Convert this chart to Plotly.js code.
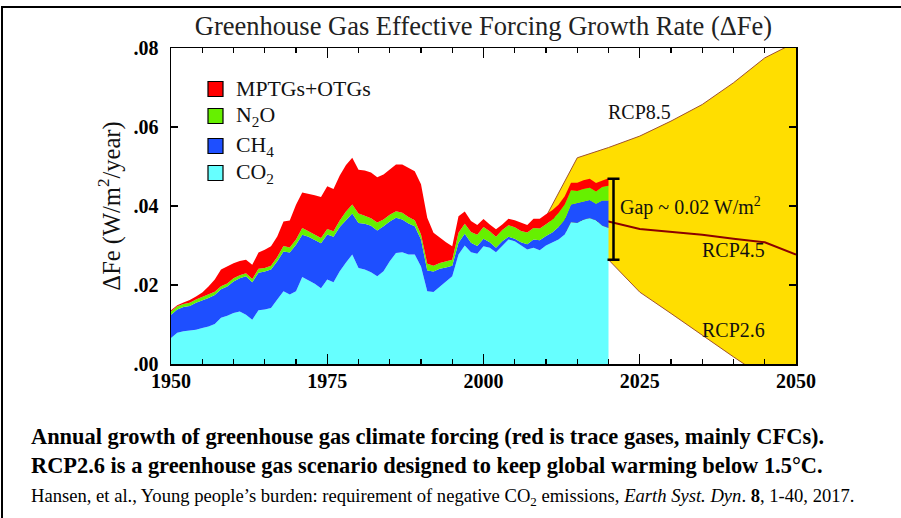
<!DOCTYPE html>
<html><head><meta charset="utf-8">
<script src="https://cdn.plot.ly/plotly-3.0.1.min.js"></script>
<style>
html,body{margin:0;padding:0;background:#fff;overflow:hidden;}
#wrap{position:relative;width:901px;height:518px;}
#chart{position:absolute;left:0;top:0;width:901px;height:518px;}
#frame{position:absolute;left:1px;top:6px;right:-4px;bottom:-4px;border-top:2px solid #000;border-left:2px solid #000;pointer-events:none;}
</style></head><body>
<div id="wrap"><div id="chart"></div><div id="frame"></div></div>
<script>
// ---- data ----
const years = [1950,1951,1952,1953,1954,1955,1956,1957,1958,1959,
1960,1961,1962,1963,1964,1965,1966,1967,1968,1969,
1970,1971,1972,1973,1974,1975,1976,1977,1978,1979,
1980,1981,1982,1983,1984,1985,1986,1987,1988,1989,
1990,1991,1992,1993,1994,1995,1996,1997,1998,1999,
2000,2001,2002,2003,2004,2005,2006,2007,2008,2009,
2010,2011,2012,2013,2014,2015,2016,2017,2018,2019,2020];
const co2 = [.0066,.0079,.0083,.0085,.0087,.0091,.0095,.0101,.0117,.0122,
.0129,.0133,.0125,.0112,.0136,.0138,.0142,.0163,.0184,.0176,
.0184,.0220,.0212,.0203,.0192,.0214,.0207,.0235,.0257,.0277,
.0243,.0239,.0232,.0222,.0235,.0260,.0281,.0283,.0277,.0277,
.0247,.0184,.0182,.0195,.0209,.0222,.0277,.0300,.0283,.0279,
.0298,.0294,.0283,.0298,.0315,.0311,.0300,.0290,.0294,.0288,
.0300,.0308,.0315,.0328,.0359,.0357,.0366,.0369,.0364,.0350,.0344];
const ch4 = [.0059,.0059,.0061,.0062,.0068,.0069,.0072,.0074,.0072,.0074,
.0080,.0084,.0097,.0095,.0095,.0096,.0097,.0097,.0101,.0106,
.0118,.0107,.0110,.0111,.0114,.0114,.0115,.0112,.0108,.0104,
.0114,.0116,.0118,.0116,.0114,.0101,.0089,.0083,.0079,.0072,
.0068,.0053,.0052,.0046,.0035,.0027,.0030,.0030,.0024,.0020,
.0019,.0014,.0011,.0013,.0007,.0006,.0008,.0013,.0021,.0025,
.0024,.0025,.0032,.0038,.0045,.0051,.0046,.0046,.0042,.0064,.0070];
const n2o = [.0008,.0008,.0008,.0008,.0008,.0009,.0008,.0008,.0008,.0008,
.0008,.0008,.0008,.0008,.0010,.0009,.0010,.0011,.0014,.0013,
.0013,.0017,.0014,.0013,.0013,.0014,.0014,.0016,.0021,.0023,
.0024,.0020,.0019,.0020,.0017,.0017,.0017,.0017,.0016,.0015,
.0013,.0017,.0015,.0015,.0016,.0015,.0025,.0025,.0027,.0028,
.0030,.0028,.0028,.0028,.0029,.0029,.0029,.0030,.0029,.0030,
.0030,.0032,.0035,.0038,.0036,.0030,.0031,.0031,.0031,.0034,.0037];
const mptg = [.0003,.0003,.0004,.0007,.0008,.0012,.0021,.0031,.0042,.0044,
.0038,.0036,.0034,.0036,.0041,.0046,.0049,.0052,.0062,.0068,
.0088,.0090,.0095,.0100,.0104,.0108,.0107,.0114,.0118,.0118,
.0111,.0115,.0116,.0115,.0114,.0114,.0118,.0122,.0125,.0124,
.0127,.0116,.0083,.0063,.0048,.0034,.0042,.0031,.0028,.0025,
.0020,.0017,.0019,.0014,.0017,.0018,.0020,.0019,.0024,.0025,
.0025,.0024,.0021,.0021,.0019,.0021,.0022,.0023,.0021,.0017,.0019];

const rcpYears = [2010,2015,2020,2025,2030,2035,2040,2045,2050];
const rcp85 = [.0373,.0522,.0548,.0577,.0615,.0657,.0712,.0775,.0815];
const rcp45 = [.0370,.0366,.0361,.0342,.0334,.0327,.0317,.0308,.0277];
const rcp26 = [.0370,.0320,.0264,.0182,.0128,.0072,.0018,-.0035,-.0088];

const gapYear = 2020.8, gapHigh = .0469, gapLow = .0264;

const seriesNames = ['CO<sub>2</sub>','CH<sub>4</sub>','N<sub>2</sub>O','MPTGs+OTGs'];
const seriesColors = ['#66FFFF','#1E4FFF','#66F000','#FF0000'];
const xTickVals = [1950,1975,2000,2025,2050];
const yTickVals = [0,.02,.04,.06,.08];
const yTickText = ['.00','.02','.04','.06','.08'];

// ---- layout helpers ----
const W=901,H=518,L=171,R=105,T=48,B=154;
const pw=W-L-R, ph=H-T-B;
const px = x => (x-L)/pw;
const py = y => (H-B-y)/ph;
const SERIF = '"Liberation Serif", "Times New Roman", serif';

const traces = [];
traces.push({x:rcpYears,y:rcp26,mode:'lines',line:{color:'#A0522D',width:1},showlegend:false,hoverinfo:'skip'});
traces.push({x:rcpYears,y:rcp85,mode:'lines',fill:'tonexty',fillcolor:'#FFDE00',line:{color:'#A0522D',width:1},showlegend:false,hoverinfo:'skip'});
traces.push({x:rcpYears,y:rcp45,mode:'lines',line:{color:'#8B0000',width:2},showlegend:false,hoverinfo:'skip'});
[co2,ch4,n2o,mptg].forEach((s,i)=>{
  traces.push({x:years,y:s,name:seriesNames[i],stackgroup:'one',mode:'lines',
    line:{width:0,color:seriesColors[i]},fillcolor:seriesColors[i],showlegend:false,hoverinfo:'skip'});
});
traces.push({x:[gapYear],y:[(gapHigh+gapLow)/2],mode:'markers',marker:{size:2,color:'rgba(0,0,0,0)'},
  error_y:{type:'data',array:[(gapHigh-gapLow)/2],thickness:2.5,width:6,color:'#000'},showlegend:false,hoverinfo:'skip'});

const shapes = [];
const annotations = [];
const legendOrder = [3,2,1,0];
const rowY = [89,116,146,173];
legendOrder.forEach((k,i)=>{
  shapes.push({type:'rect',xref:'paper',yref:'paper',x0:px(208),x1:px(223),y0:py(rowY[i]+7.5),y1:py(rowY[i]-7.5),
    line:{color:'#000',width:1.2},fillcolor:seriesColors[k]});
  annotations.push({xref:'paper',yref:'paper',x:px(234),y:py(rowY[i]),xanchor:'left',yanchor:'middle',
    text:seriesNames[k],showarrow:false,font:{family:SERIF,size:21.8,color:'#111'}});
});
// scenario labels
const lab = (x,y,t,xa)=>annotations.push({x:x,y:y,text:t,showarrow:false,xanchor:xa||'center',yanchor:'middle',font:{family:SERIF,size:20,color:'#111'}});
lab(2025,.0639,'RCP8.5');
lab(2040,.0289,'RCP4.5');
lab(2040,.0087,'RCP2.6');
lab(2021.5,.0398,'Gap ~ 0.02 W/m<sup>2</sup>','left');
// captions
const cap = (y,t,size,bold)=>annotations.push({xref:'paper',yref:'paper',x:px(29),y:py(y),xanchor:'left',yanchor:'middle',
  text:t,showarrow:false,font:{family:SERIF,size:size,color:'#000',weight:bold?'bold':'normal'}});
cap(437,'Annual growth of greenhouse gas climate forcing (red is trace gases, mainly CFCs).',22.4,true);
cap(465,'RCP2.6 is a greenhouse gas scenario designed to keep global warming below 1.5°C.',22.4,true);
cap(497,'Hansen, et al., Young people’s burden: requirement of negative CO<sub>2</sub> emissions, <i>Earth Syst. Dyn</i>. <b>8</b>, 1-40, 2017.',18.6,false);

const layout = {
  width:W,height:H,margin:{l:L,r:R,t:T,b:B},
  paper_bgcolor:'#fff',plot_bgcolor:'#fff',showlegend:false,
  font:{family:SERIF,color:'#000'},
  title:{text:'Greenhouse Gas Effective Forcing Growth Rate (ΔFe)',font:{family:SERIF,size:26.5,color:'#222'},
    x:0.5,xref:'paper',xanchor:'center',y:1-26/H,yref:'container',yanchor:'middle'},
  xaxis:{range:[1950,2050],tickvals:xTickVals,ticks:'inside',ticklen:10,tickwidth:1.3,tickcolor:'#000',
    minor:{tick0:1950,dtick:5,ticks:'inside',ticklen:5,tickwidth:1.1,tickcolor:'#000'},
    showline:true,linecolor:'#000',linewidth:1.5,mirror:'ticks',showgrid:false,zeroline:false,
    ticklabelstandoff:-2,
    tickfont:{family:SERIF,size:20,weight:'bold',color:'#000'},fixedrange:true},
  yaxis:{range:[0,.08],tickvals:yTickVals,ticktext:yTickText,ticks:'inside',ticklen:7,tickwidth:1.3,tickcolor:'#000',
    showline:true,linecolor:'#000',linewidth:1.5,mirror:'ticks',showgrid:false,zeroline:false,
    ticklabelstandoff:7,
    tickfont:{family:SERIF,size:20,weight:'bold',color:'#000'},
    title:{text:'ΔFe (W/m<sup>2</sup>/year)',font:{family:SERIF,size:24.5,color:'#111'},standoff:6},fixedrange:true},
  shapes:shapes,annotations:annotations
};
Plotly.newPlot('chart',traces,layout,{displayModeBar:false,staticPlot:true});
</script>
</body></html>
